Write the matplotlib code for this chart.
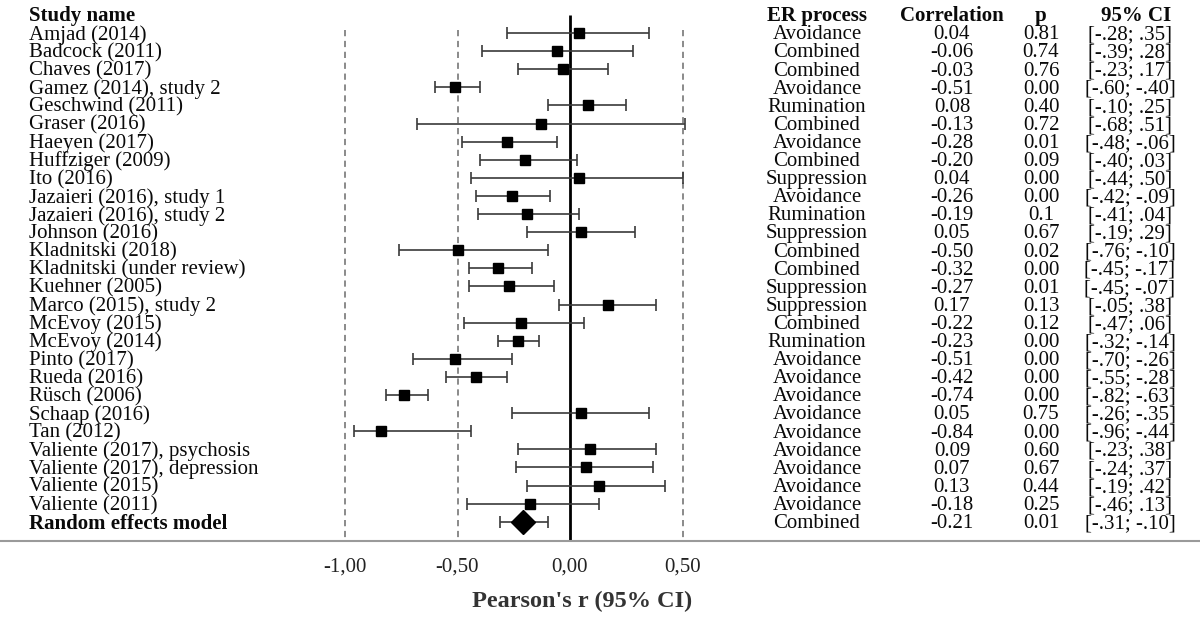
import matplotlib
matplotlib.use("Agg")
import matplotlib.pyplot as plt
import numpy as np

# ---------------- data ----------------
studies = ["Amjad (2014)", "Badcock (2011)", "Chaves (2017)", "Gamez (2014), study 2",
           "Geschwind (2011)", "Graser (2016)", "Haeyen (2017)", "Huffziger (2009)",
           "Ito (2016)", "Jazaieri (2016), study 1", "Jazaieri (2016), study 2",
           "Johnson (2016)", "Kladnitski (2018)", "Kladnitski (under review)",
           "Kuehner (2005)", "Marco (2015), study 2", "McEvoy (2015)", "McEvoy (2014)",
           "Pinto (2017)", "Rueda (2016)", "Rüsch (2006)", "Schaap (2016)", "Tan (2012)",
           "Valiente (2017), psychosis", "Valiente (2017), depression",
           "Valiente (2015)", "Valiente (2011)"]
processes = ["Avoidance", "Combined", "Combined", "Avoidance", "Rumination", "Combined",
             "Avoidance", "Combined", "Suppression", "Avoidance", "Rumination",
             "Suppression", "Combined", "Combined", "Suppression", "Suppression",
             "Combined", "Rumination", "Avoidance", "Avoidance", "Avoidance",
             "Avoidance", "Avoidance", "Avoidance", "Avoidance", "Avoidance", "Avoidance"]
corr = [0.04, -0.06, -0.03, -0.51, 0.08, -0.13, -0.28, -0.20, 0.04, -0.26, -0.19, 0.05,
        -0.50, -0.32, -0.27, 0.17, -0.22, -0.23, -0.51, -0.42, -0.74, 0.05, -0.84,
        0.09, 0.07, 0.13, -0.18]
p_text = ["0.81", "0.74", "0.76", "0.00", "0.40", "0.72", "0.01", "0.09", "0.00", "0.00",
          "0.1", "0.67", "0.02", "0.00", "0.01", "0.13", "0.12", "0.00", "0.00", "0.00",
          "0.00", "0.75", "0.00", "0.60", "0.67", "0.44", "0.25"]
ci_lo = [-.28, -.39, -.23, -.60, -.10, -.68, -.48, -.40, -.44, -.42, -.41, -.19, -.76,
         -.45, -.45, -.05, -.47, -.32, -.70, -.55, -.82, -.26, -.96, -.23, -.24, -.19, -.46]
ci_hi = [.35, .28, .17, -.40, .25, .51, -.06, .03, .50, -.09, .04, .29, -.10, -.17,
         -.07, .38, .06, -.14, -.26, -.28, -.63, .35, -.44, .38, .37, .42, .13]
ci_text = ["[-.28; .35]", "[-.39; .28]", "[-.23; .17]", "[-.60; -.40]", "[-.10; .25]",
           "[-.68; .51]", "[-.48; -.06]", "[-.40; .03]", "[-.44; .50]", "[-.42; -.09]",
           "[-.41; .04]", "[-.19; .29]", "[-.76; -.10]", "[-.45; -.17]", "[-.45; -.07]",
           "[-.05; .38]", "[-.47; .06]", "[-.32; -.14]", "[-.70; -.26]", "[-.55; -.28]",
           "[-.82; -.63]", "[-.26; -.35]", "[-.96; -.44]", "[-.23; .38]", "[-.24; .37]",
           "[-.19; .42]", "[-.46; .13]"]

pooled_name = "Random effects model"
pooled_process = "Combined"
pooled_corr = -0.21
pooled_p = "0.01"
pooled_lo, pooled_hi = -0.31, -0.10
pooled_ci_text = "[-.31; -.10]"

headers = ["Study name", "ER process", "Correlation", "p", "95% CI"]
xticks = [-1.0, -0.5, 0.0, 0.5]
xtick_labels = ["-1,00", "-0,50", "0,00", "0,50"]
xlabel = "Pearson's r (95% CI)"

# ---------------- figure ----------------
W, H = 1200, 617
plt.rcParams['font.family'] = ['Liberation Serif', 'DejaVu Serif']
FS = 15

fig = plt.figure(figsize=(W / 100, H / 100), dpi=100)
axis_px = 541
ax = fig.add_axes([0, (H - axis_px) / H, 1, axis_px / H])

x0_px, unit_px = 570, 225
ax.set_xlim(-x0_px / unit_px, (W - x0_px) / unit_px)
row0_px, row_step = 33, 18.1
y_bottom = (axis_px - row0_px) / row_step
y_top = -row0_px / row_step
ax.set_ylim(y_bottom, y_top)

n = len(studies)
rows = np.arange(n)
pooled_row = n

# reference lines
for xv in [-1.0, -0.5, 0.5]:
    ax.vlines(xv, -0.17, y_bottom, colors="#8a8a8a", linestyles=(0, (3.2, 2.4)),
              linewidth=1.4, zorder=1)
ax.vlines(0, -1.0, y_bottom, colors="black", linewidth=2.0, zorder=2)

# study estimates
corr_a = np.array(corr)
lo_a = np.array(ci_lo)
hi_a = np.array(ci_hi)
ax.errorbar(corr_a, rows, xerr=[corr_a - lo_a, hi_a - corr_a], fmt='none',
            ecolor="#3a3a3a", elinewidth=1.2, capsize=4.5, capthick=1.2, zorder=3)
ax.plot(corr_a, rows, 's', color="black", markersize=7.3, zorder=4)

# pooled
ax.errorbar([pooled_corr], [pooled_row],
            xerr=[[pooled_corr - pooled_lo], [pooled_hi - pooled_corr]], fmt='none',
            ecolor="#3a3a3a", elinewidth=1.2, capsize=4.5, capthick=1.2, zorder=3)
ax.plot([pooled_corr], [pooled_row], 'D', color="black", markersize=12.5, zorder=4)

# axes styling
for s in ["top", "left", "right"]:
    ax.spines[s].set_visible(False)
ax.spines["bottom"].set_color("#9a9a9a")
ax.spines["bottom"].set_linewidth(1.5)
ax.set_yticks([])
ax.set_xticks(xticks)
ax.set_xticklabels(xtick_labels, fontsize=FS, color="#222222")
ax.tick_params(axis='x', length=0, pad=12)
fig.text(582 / W, 1 - 601 / H, xlabel, ha="center", va="center",
         fontsize=17.5, fontweight="bold", color="#333333")

# table text
tr = ax.get_yaxis_transform()
col_name = 29 / W
col_proc = 817 / W
col_corr = 952 / W
col_p = 1041 / W
col_ci = 1130 / W
dy = 0.1  # text vertical offset so cap-height centre matches marker centre
hdr_y = -1.05 + dy
txtc = "#0a0a0a"
ax.text(col_name, hdr_y, headers[0], transform=tr, ha="left", va="center",
        fontsize=FS, fontweight="bold", color=txtc)
ax.text(col_proc, hdr_y, headers[1], transform=tr, ha="center", va="center",
        fontsize=FS, fontweight="bold", color=txtc)
ax.text(col_corr, hdr_y, headers[2], transform=tr, ha="center", va="center",
        fontsize=FS, fontweight="bold", color=txtc)
ax.text(col_p, hdr_y, headers[3], transform=tr, ha="center", va="center",
        fontsize=FS, fontweight="bold", color=txtc)
ax.text(1136 / W, hdr_y, headers[4], transform=tr, ha="center", va="center",
        fontsize=FS, fontweight="bold", color=txtc)

for i in range(n):
    y = i + dy
    ax.text(col_name, y, studies[i], transform=tr, ha="left", va="center",
            fontsize=FS, color=txtc)
    ax.text(col_proc, y, processes[i], transform=tr, ha="center", va="center",
            fontsize=FS, color=txtc)
    ax.text(col_corr, y, f"{corr[i]:.2f}", transform=tr, ha="center", va="center",
            fontsize=FS, color=txtc)
    ax.text(col_p, y, p_text[i], transform=tr, ha="center", va="center",
            fontsize=FS, color=txtc)
    ax.text(col_ci, y, ci_text[i], transform=tr, ha="center", va="center",
            fontsize=FS, color=txtc)

yp = pooled_row + dy
ax.text(col_name, yp, pooled_name, transform=tr, ha="left", va="center",
        fontsize=FS, fontweight="bold", color=txtc)
ax.text(col_proc, yp, pooled_process, transform=tr, ha="center", va="center",
        fontsize=FS, color=txtc)
ax.text(col_corr, yp, f"{pooled_corr:.2f}", transform=tr, ha="center",
        va="center", fontsize=FS, color=txtc)
ax.text(col_p, yp, pooled_p, transform=tr, ha="center", va="center",
        fontsize=FS, color=txtc)
ax.text(col_ci, yp, pooled_ci_text, transform=tr, ha="center", va="center",
        fontsize=FS, color=txtc)

fig.savefig("out.png", dpi=100)
